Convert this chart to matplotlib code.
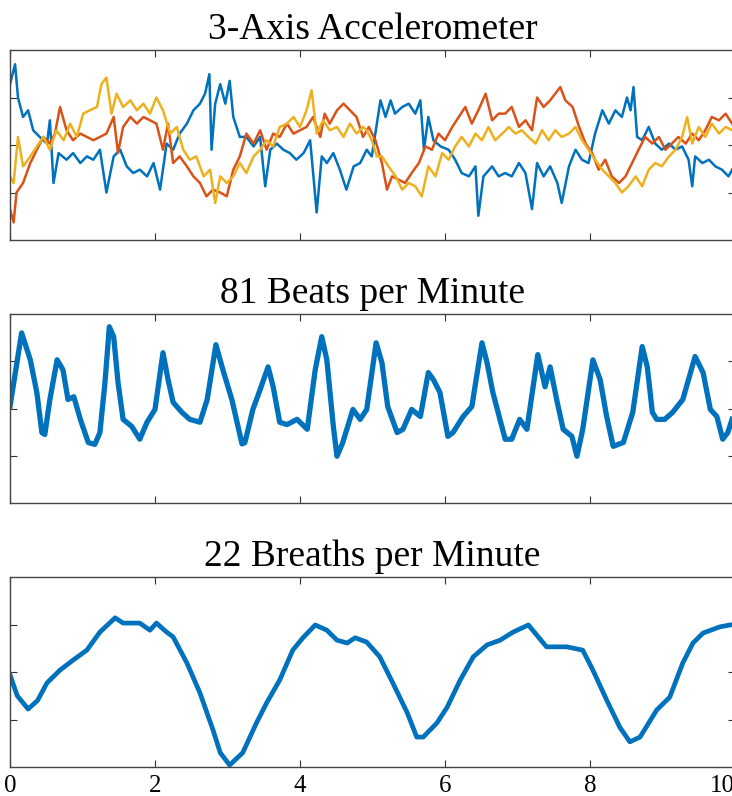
import numpy as np
import matplotlib
matplotlib.use('Agg')
import matplotlib.pyplot as plt

plt.rcParams['font.family'] = ['Liberation Serif', 'DejaVu Serif']

# --- accelerometer (time in s, value in units of the y ticks)
acc_x_t = [0.00, 0.07, 0.11, 0.18, 0.25, 0.32, 0.41, 0.51, 0.55, 0.60,
           0.67, 0.78, 0.87, 0.97, 1.06, 1.15, 1.24, 1.33, 1.43, 1.52,
           1.61, 1.70, 1.79, 1.89, 1.98, 2.07, 2.16, 2.25, 2.34, 2.44,
           2.53, 2.62, 2.69, 2.75, 2.78, 2.83, 2.90, 2.97, 3.03, 3.08,
           3.17, 3.26, 3.36, 3.45, 3.52, 3.59, 3.68, 3.77, 3.86, 3.95,
           4.05, 4.14, 4.23, 4.30, 4.37, 4.46, 4.55, 4.64, 4.74, 4.83,
           4.92,
           4.99, 5.11, 5.18, 5.25, 5.31, 5.41, 5.50, 5.59, 5.66, 5.71,
           5.77, 5.84, 5.94, 6.05, 6.14, 6.23, 6.33, 6.42, 6.46, 6.53,
           6.65, 6.74, 6.83, 6.92, 7.02, 7.11, 7.20, 7.27, 7.36, 7.45,
           7.55, 7.61, 7.71, 7.80, 7.89, 7.98, 8.07, 8.17, 8.26, 8.35,
           8.44, 8.51, 8.56, 8.60, 8.65, 8.72, 8.81, 8.90, 8.99, 9.09,
           9.18, 9.27, 9.36, 9.41, 9.45, 9.55, 9.64, 9.73, 9.82, 9.91,
           9.96]
acc_x = [1.28, 1.7, 1.0, 0.59, 0.73, 0.31, 0.17, 0.03, 0.52, -0.8,
         -0.17, -0.31, -0.17, -0.38, -0.24, -0.31, -0.1, -1.0, -0.24, -0.1,
         -0.45, -0.59, -0.52, -0.66, -0.38, -0.94, 0.03, -0.1, 0.24, 0.45,
         0.73, 0.87, 1.08, 1.49, -0.1, 0.87, 1.28, 0.87, 1.35, 0.59,
         0.17, 0.17, -0.03, 0.17, -0.87, -0.1, 0.03, -0.1, -0.17, -0.31,
         -0.17, 0.1, -1.42, -0.24, -0.38, -0.17, -0.52, -0.94, -0.45, -0.38,
         -0.1,
         -0.24, 0.94, 0.59, 0.94, 0.66, 0.8, 0.87, 0.66, 0.94, -0.1,
         0.59, 0.1, -0.03, -0.1, -0.31, -0.59, -0.66, -0.45, -1.49, -0.66,
         -0.45, -0.66, -0.59, -0.66, -0.38, -0.59, -1.35, -0.38, -0.66, -0.45,
         -0.8, -1.22, -0.45, -0.1, -0.31, -0.38, 0.24, 0.73, 0.45, 0.73,
         0.59, 1.0, 0.73, 1.22, 0.17, 0.1, 0.38, 0.03, -0.1, 0.03,
         -0.1, -0.03, -0.31, -0.87, -0.24, -0.38, -0.31, -0.45, -0.52, -0.66,
         -0.52]

acc_y_t = [0.00, 0.05, 0.09, 0.18, 0.28, 0.37, 0.46, 0.55, 0.62, 0.69,
           0.78, 0.87, 0.97, 1.06, 1.15, 1.24, 1.33, 1.43, 1.49, 1.56,
           1.66, 1.75, 1.84, 1.93, 2.02, 2.11, 2.18, 2.25, 2.34, 2.44,
           2.53, 2.62, 2.71, 2.80, 2.90, 2.99, 3.08, 3.17, 3.26, 3.36,
           3.45, 3.54, 3.63, 3.72, 3.82, 3.91, 4.00, 4.09, 4.18, 4.28,
           4.34, 4.41, 4.51, 4.60, 4.69, 4.78, 4.87,
           4.95, 5.04, 5.13, 5.20, 5.27, 5.36, 5.45, 5.54, 5.64, 5.73,
           5.82, 5.91, 6.00, 6.10, 6.19, 6.28, 6.37, 6.46, 6.56, 6.65,
           6.74, 6.83, 6.92, 7.02, 7.11, 7.20, 7.27, 7.36, 7.45, 7.52,
           7.59, 7.66, 7.76, 7.85, 7.94, 8.03, 8.12, 8.21, 8.30, 8.40,
           8.49, 8.58, 8.67, 8.76, 8.86, 8.95, 9.04, 9.13, 9.22, 9.32,
           9.41, 9.50, 9.59, 9.68, 9.78, 9.87, 9.96]
acc_y = [-1.35, -1.63, -1.0, -0.8, -0.38, -0.1, 0.17, 0.03, 0.24, 0.8,
         0.31, 0.1, 0.24, 0.17, 0.1, 0.17, 0.24, 0.59, -0.17, 0.38,
         0.59, 0.45, 0.59, 0.52, 0.45, -0.1, 0.45, -0.38, -0.24, -0.45,
         -0.66, -0.8, -1.08, -0.94, -1.0, -1.08, -0.52, -0.24, 0.24, 0.03,
         0.31, -0.1, 0.24, 0.17, 0.45, 0.24, 0.31, 0.38, 0.59, 0.17,
         0.66, 0.45, 0.73, 0.87, 0.73, 0.59, 0.17,
         0.38, 0.1, -0.38, -0.94, -0.66, -0.73, -0.8, -0.59, -0.38, -0.03,
         -0.1, 0.24, 0.1, 0.38, 0.59, 0.8, 0.45, 0.73, 1.08, 0.52,
         0.66, 0.66, 0.8, 0.38, 0.52, 0.31, 1.0, 0.8, 0.94, 1.08,
         1.22, 0.94, 0.8, 0.38, 0.03, -0.17, -0.52, -0.31, -0.66, -0.8,
         -0.66, -0.38, -0.1, 0.17, 0.03, 0.17, -0.1, 0.03, 0.17, 0.03,
         0.24, 0.1, 0.31, 0.59, 0.52, 0.66, 0.45]

acc_z_t = [0.00, 0.05, 0.11, 0.18, 0.28, 0.37, 0.46, 0.55, 0.64, 0.74,
           0.83, 0.92, 1.01, 1.10, 1.20, 1.26, 1.33, 1.40, 1.47, 1.56,
           1.66, 1.75, 1.84, 1.93, 2.02, 2.11, 2.21, 2.30, 2.39, 2.48,
           2.57, 2.67, 2.76, 2.83, 2.90, 2.99, 3.08, 3.17, 3.26, 3.36,
           3.45, 3.54, 3.63, 3.72, 3.82, 3.91, 4.00, 4.09, 4.16, 4.23,
           4.32, 4.41, 4.51, 4.60, 4.69, 4.78, 4.87,
           4.92, 4.99, 5.06, 5.13, 5.22, 5.32, 5.41, 5.50, 5.59, 5.68,
           5.77, 5.87, 5.96, 6.05, 6.14, 6.23, 6.33, 6.42, 6.51, 6.60,
           6.69, 6.79, 6.88, 6.97, 7.06, 7.15, 7.25, 7.34, 7.43, 7.52,
           7.61, 7.71, 7.80, 7.89, 7.98, 8.07, 8.17, 8.26, 8.35, 8.44,
           8.53, 8.63, 8.72, 8.81, 8.90, 8.99, 9.09, 9.18, 9.27, 9.34,
           9.41, 9.50, 9.59, 9.68, 9.78, 9.87, 9.96]
acc_z = [-0.66, -0.8, 0.17, -0.45, -0.24, -0.03, 0.17, -0.1, 0.31, 0.1,
         0.45, 0.17, 0.66, 0.73, 0.8, 1.28, 1.42, 0.66, 1.08, 0.8,
         0.94, 0.73, 0.87, 0.66, 1.0, 0.73, 0.24, 0.38, -0.1, -0.31,
         -0.24, -0.66, -0.52, -1.22, -0.66, -0.8, -0.66, -0.38, -0.59, -0.24,
         -0.1, 0.1, -0.03, 0.38, 0.45, 0.59, 0.38, 0.73, 1.15, 0.24,
         0.52, 0.31, 0.38, 0.17, 0.45, 0.24, 0.38,
         0.31, 0.1, -0.24, -0.24, -0.45, -0.66, -0.94, -0.8, -0.87, -1.08,
         -0.45, -0.66, -0.17, -0.31, -0.03, 0.17, -0.03, 0.24, 0.1, 0.38,
         0.1, 0.24, 0.38, 0.24, 0.31, 0.17, 0.03, 0.31, 0.1, 0.31,
         0.17, 0.24, 0.38, 0.1, -0.1, -0.31, -0.52, -0.66, -0.8, -1.0,
         -0.87, -0.66, -0.87, -0.52, -0.38, -0.45, -0.24, -0.1, 0.17, 0.59,
         0.03, 0.38, 0.17, 0.45, 0.24, 0.38, 0.31]

# --- heart signal
heart_t = [0.0, 0.16, 0.28, 0.37, 0.44, 0.48, 0.55, 0.65, 0.73, 0.80,
           0.88, 0.97, 1.08, 1.17, 1.24, 1.31, 1.37, 1.43, 1.49, 1.56,
           1.68, 1.79, 1.89, 2.0, 2.11, 2.18, 2.25, 2.37, 2.48, 2.62,
           2.72, 2.84, 2.94, 3.06, 3.2, 3.24, 3.35, 3.45, 3.56, 3.63,
           3.72, 3.82, 3.96, 4.10, 4.21, 4.30, 4.37, 4.46, 4.51, 4.59,
           4.73, 4.83, 4.92, 5.05, 5.13, 5.21, 5.34, 5.42, 5.54, 5.66,
           5.77, 5.84, 5.93, 6.04, 6.11, 6.25, 6.37, 6.51, 6.58, 6.66,
           6.83, 6.92, 7.03, 7.13, 7.28, 7.38, 7.45, 7.54, 7.63, 7.75,
           7.82, 7.90, 8.04, 8.14, 8.23, 8.32, 8.46, 8.59, 8.72, 8.79,
           8.86, 8.92, 9.03, 9.14, 9.28, 9.45, 9.56, 9.66, 9.75, 9.83,
           9.90, 9.96]
heart = [0.04, 1.6, 1.03, 0.34, -0.51, -0.55, 0.19, 1.03, 0.82, 0.19,
         0.25, -0.23, -0.72, -0.76, -0.51, 0.55, 1.73, 1.52, 0.55, -0.23,
         -0.38, -0.65, -0.29, -0.02, 1.18, 0.61, 0.13, -0.08, -0.23, -0.29,
         0.19, 1.35, 0.8, 0.19, -0.75, -0.72, -0.02, 0.4, 0.88, 0.46,
         -0.29, -0.34, -0.23, -0.44, 0.82, 1.52, 1.03, -0.38, -1.01, -0.72,
         -0.02, -0.23, -0.02, 1.39, 0.97, 0.04, -0.51, -0.44, -0.02, -0.17,
         0.76, 0.61, 0.34, -0.59, -0.51, -0.17, 0.04, 1.39, 0.97, 0.34,
         -0.65, -0.65, -0.23, -0.44, 1.14, 0.46, 0.88, 0.19, -0.44, -0.59,
         -1.01, -0.44, 1.03, 0.61, -0.17, -0.8, -0.72, -0.08, 1.31, 0.88,
         -0.08, -0.23, -0.23, -0.08, 0.19, 1.1, 0.76, -0.02, -0.17, -0.65,
         -0.51, -0.23]

# --- breathing signal
breath_t = [0.0, 0.1, 0.25, 0.38, 0.51, 0.69, 0.87, 1.06, 1.24, 1.45,
            1.56, 1.79, 1.93, 2.02, 2.16, 2.25, 2.44, 2.62, 2.80, 2.90,
            3.03, 3.21, 3.40, 3.54, 3.72, 3.90, 4.04, 4.21, 4.37, 4.51,
            4.65, 4.76, 4.92, 5.10, 5.28, 5.48, 5.61, 5.70, 5.89, 6.03,
            6.21, 6.39, 6.58, 6.76, 6.94, 7.15, 7.40, 7.68, 7.90, 8.04,
            8.23, 8.41, 8.55, 8.69, 8.92, 9.10, 9.28, 9.42, 9.56, 9.79,
            9.93]
breath = [-0.06, -0.5, -0.78, -0.6, -0.23, 0.04, 0.25, 0.46, 0.84, 1.14,
          1.03, 1.03, 0.88, 1.03, 0.84, 0.74, 0.19, -0.44, -1.22, -1.7,
          -1.96, -1.7, -1.07, -0.65, -0.17, 0.46, 0.72, 0.99, 0.88, 0.67,
          0.61, 0.72, 0.63, 0.32, -0.23, -0.86, -1.37, -1.37, -1.07, -0.74,
          -0.17, 0.32, 0.57, 0.67, 0.84, 0.99, 0.53, 0.53, 0.46, 0.04,
          -0.59, -1.16, -1.47, -1.37, -0.8, -0.53, 0.19, 0.61, 0.82, 0.95,
          0.99]

titles = ['3-Axis Accelerometer', '81 Beats per Minute', '22 Breaths per Minute']
blue = '#0072BD'
orange = '#D95319'
yellow = '#EDB120'

W, H = 732, 796
fig = plt.figure(figsize=(W / 100, H / 100), dpi=100)

# panel boxes in pixels (top, bottom); right edge runs a little past the image
left_px, right_px = 10, 735
boxes = [(50, 240), (314, 503), (577, 767)]
axes = []
for top, bot in boxes:
    ax = fig.add_axes([left_px / W, 1 - bot / H, (right_px - left_px) / W, (bot - top) / H])
    axes.append(ax)

axes[0].plot(acc_x_t, acc_x, color=blue, lw=1.8)
axes[0].plot(acc_y_t, acc_y, color=orange, lw=1.8)
axes[0].plot(acc_z_t, acc_z, color=yellow, lw=1.8)
axes[1].plot(heart_t, heart, color=blue, lw=3.8, solid_joinstyle='round')
axes[2].plot(breath_t, breath, color=blue, lw=3.4, solid_joinstyle='round')

for i, ax in enumerate(axes):
    ax.set_xlim(0, 10)
    ax.set_ylim(-2, 2)
    ax.set_xticks([0, 2, 4, 6, 8, 10])
    ax.set_yticks([-1, 0, 1])
    ax.tick_params(direction='in', top=True, right=True, length=5, width=0.8,
                   color='#333333', labelleft=False, labelbottom=(i == 2),
                   labelsize=18, pad=6)
    for s in ax.spines.values():
        s.set_color('#444444')
        s.set_linewidth(1.0)
    ax.set_title(titles[i], fontsize=27, pad=8)

# the last label sits against the cut right edge, as in the source picture
axes[2].get_xticklabels()[-1].set_horizontalalignment('right')

fig.savefig('out.png', dpi=100)
